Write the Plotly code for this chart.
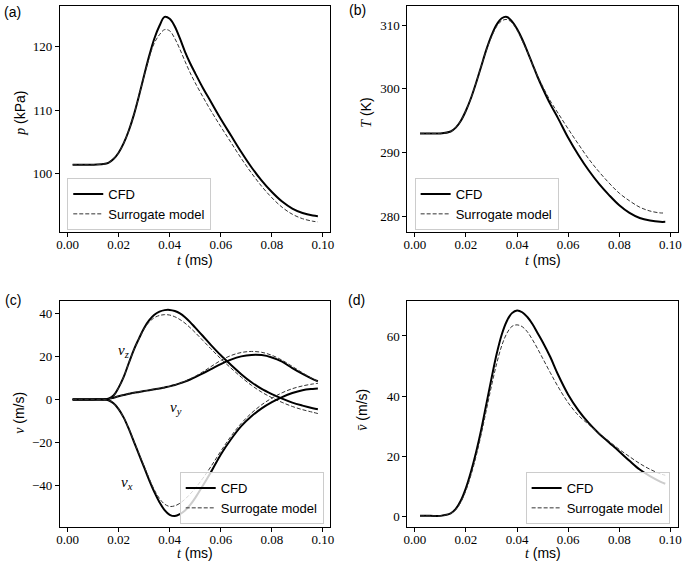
import plotly.graph_objects as go

# ---------------- data ----------------
t_ms = [0.002, 0.006, 0.010, 0.014, 0.016, 0.018, 0.020, 0.022, 0.024, 0.026,
        0.028, 0.030, 0.032, 0.034, 0.036, 0.038, 0.040, 0.042, 0.044, 0.046,
        0.048, 0.050, 0.053, 0.056, 0.060, 0.064, 0.068, 0.072, 0.076, 0.080,
        0.084, 0.088, 0.092, 0.096, 0.098]

p_cfd = [101.4, 101.4, 101.4, 101.5, 101.7, 102.3, 103.3, 104.8, 106.8, 109.3,
         112.3, 115.5, 118.6, 121.3, 123.3, 124.7, 124.4, 123.2, 121.3, 119.2,
         117.4, 115.8, 113.5, 111.4, 108.6, 106.0, 103.4, 101.0, 98.9, 97.1,
         95.6, 94.5, 93.8, 93.4, 93.3]
p_sur = [101.4, 101.4, 101.4, 101.5, 101.7, 102.3, 103.3, 104.8, 106.8, 109.3,
         112.3, 115.4, 118.3, 120.6, 121.9, 122.7, 122.5, 121.3, 119.6, 117.7,
         115.9, 114.3, 112.1, 110.0, 107.4, 104.9, 102.4, 100.1, 98.0, 96.2,
         94.7, 93.6, 92.9, 92.5, 92.4]

T_cfd = [293.0, 293.0, 293.0, 293.3, 293.9, 295.0, 296.6, 298.6, 301.0, 303.6,
         306.2, 308.4, 310.1, 311.1, 311.3, 310.6, 309.4, 307.8, 305.9, 303.9,
         301.9, 300.1, 297.6, 295.4, 292.3, 289.6, 287.2, 285.1, 283.3, 281.7,
         280.5, 279.7, 279.3, 279.1, 279.1]
T_sur = [293.0, 293.0, 293.0, 293.3, 293.9, 295.0, 296.6, 298.6, 301.0, 303.6,
         306.1, 308.2, 309.8, 310.7, 310.9, 310.4, 309.2, 307.6, 305.8, 303.9,
         302.0, 300.4, 298.1, 296.2, 293.7, 291.3, 289.0, 287.0, 285.2, 283.6,
         282.4, 281.4, 280.8, 280.5, 280.5]

vx_cfd = [0.0, 0.0, 0.0, 0.0, -0.4, -1.8, -4.5, -8.5, -13.8, -19.8,
          -25.8, -31.8, -37.8, -43.3, -48.0, -51.7, -53.9, -54.5, -53.6, -51.9,
          -49.3, -46.0, -40.2, -34.3, -25.7, -18.6, -12.5, -7.9, -4.2, -1.3,
          1.1, 3.0, 4.3, 4.9, 5.1]
vx_sur = [0.0, 0.0, 0.0, 0.0, -0.4, -1.8, -4.5, -8.5, -13.6, -19.5,
          -25.4, -31.2, -37.0, -42.3, -46.3, -48.9, -50.0, -49.7, -48.5, -46.6,
          -44.2, -41.5, -36.8, -31.6, -24.2, -17.2, -11.2, -6.4, -2.5, 0.6,
          3.1, 5.0, 6.3, 7.2, 7.5]
vy_cfd = [0.0, 0.0, 0.0, 0.0, 0.2, 0.8, 1.5, 2.1, 2.6, 3.1,
          3.5, 3.9, 4.3, 4.7, 5.1, 5.6, 6.1, 6.7, 7.5, 8.3,
          9.3, 10.4, 12.2, 14.0, 16.5, 18.6, 20.1, 20.8, 20.7, 19.6,
          17.6, 14.6, 11.9, 9.5, 8.5]
vy_sur = [0.0, 0.0, 0.0, 0.0, 0.2, 0.8, 1.5, 2.1, 2.6, 3.1,
          3.5, 3.9, 4.3, 4.7, 5.1, 5.6, 6.1, 6.8, 7.6, 8.5,
          9.6, 10.8, 12.9, 15.2, 18.2, 20.5, 21.9, 22.4, 22.0, 20.6,
          18.3, 15.4, 12.4, 9.6, 8.4]
vz_cfd = [0.0, 0.0, 0.0, 0.0, 0.3, 1.8, 5.5, 10.5, 17.0, 23.3,
          28.5, 33.4, 37.0, 39.5, 41.0, 41.7, 41.8, 41.3, 40.2, 38.4,
          36.1, 33.5, 29.6, 25.6, 20.6, 16.1, 11.8, 8.0, 4.9, 2.5,
          0.4, -1.5, -2.9, -4.1, -4.6]
vz_sur = [0.0, 0.0, 0.0, 0.0, 0.3, 1.8, 5.5, 10.5, 17.0, 23.2,
          28.3, 33.0, 36.2, 38.2, 39.2, 39.6, 39.4, 38.6, 37.3, 35.6,
          33.5, 31.2, 27.5, 23.8, 19.0, 14.6, 10.4, 6.6, 3.4, 0.8,
          -1.4, -3.3, -4.8, -6.0, -6.6]

vm_cfd = [0.2, 0.2, 0.2, 1.0, 2.5, 5.3, 9.5, 15.0, 21.5, 29.0,
          37.5, 46.0, 54.0, 60.5, 65.0, 67.6, 68.5, 67.9, 66.3, 64.0,
          61.0, 58.0, 53.0, 47.2, 40.5, 35.3, 31.1, 27.6, 24.6, 21.6,
          18.5, 15.6, 13.4, 11.6, 10.9]
vm_sur = [0.2, 0.2, 0.2, 1.0, 2.3, 4.8, 8.7, 13.9, 20.2, 27.5,
          35.5, 43.5, 50.8, 56.8, 60.9, 63.2, 63.7, 63.1, 61.4, 58.8,
          55.8, 52.6, 47.8, 43.2, 37.8, 33.6, 30.6, 27.7, 25.0, 22.3,
          19.9, 17.6, 15.7, 14.2, 13.7]

x_ticks = [0.00, 0.02, 0.04, 0.06, 0.08, 0.10]
p_ticks = [100, 110, 120]
T_ticks = [280, 290, 300, 310]
v_ticks = [-40, -20, 0, 20, 40]
vm_ticks = [0, 20, 40, 60]
legend_names = ["CFD", "Surrogate model"]

# ---------------- figure ----------------
W, H = 685, 566
SERIF = "Liberation Serif"
SANS = "Liberation Sans"

def px(x):
    return x / W

def py(y):
    return 1 - y / H

fig = go.Figure()

solid = dict(color="black", width=2)
dashed = dict(color="#333333", width=1, dash="4px,2px")

def add_pair(y1, y2, xa, ya, leg, show=True):
    fig.add_trace(go.Scatter(x=t_ms, y=y1, mode="lines", line=solid, line_shape="spline",
                             name=legend_names[0], xaxis=xa, yaxis=ya, legend=leg,
                             showlegend=show, hoverinfo="skip"))
    fig.add_trace(go.Scatter(x=t_ms, y=y2, mode="lines", line=dashed, line_shape="spline",
                             name=legend_names[1], xaxis=xa, yaxis=ya, legend=leg,
                             showlegend=show, hoverinfo="skip"))

add_pair(p_cfd, p_sur, "x", "y", "legend")
add_pair(T_cfd, T_sur, "x2", "y2", "legend2")
add_pair(vz_cfd, vz_sur, "x3", "y3", "legend3")
add_pair(vy_cfd, vy_sur, "x3", "y3", "legend3", show=False)
add_pair(vx_cfd, vx_sur, "x3", "y3", "legend3", show=False)
add_pair(vm_cfd, vm_sur, "x4", "y4", "legend4")

LEFT = [px(56.5), px(330)]
RIGHT = [px(408), px(681.5)]
TOP = [py(232), py(5.5)]
BOT = [py(527), py(300.5)]
XR = [-0.003, 0.1028]

def xaxis(dom, anchor):
    return dict(domain=dom, range=XR, anchor=anchor, tickvals=x_ticks, tickformat=".2f",
                ticks="outside", ticklen=4, tickwidth=1, tickcolor="black",
                ticklabelstandoff=-4,
                showline=True, linecolor="black", linewidth=1, mirror=True,
                showgrid=False, zeroline=False,
                tickfont=dict(family=SERIF, size=13, color="black"))

def yaxis(dom, anchor, rng, tv):
    return dict(domain=dom, range=rng, anchor=anchor, tickvals=tv,
                ticks="outside", ticklen=4, tickwidth=1, tickcolor="black",
                showline=True, linecolor="black", linewidth=1, mirror=True,
                showgrid=False, zeroline=False,
                tickfont=dict(family=SERIF, size=13, color="black"))

leg_common = dict(bgcolor="rgba(255,255,255,0.8)", bordercolor="#cccccc", borderwidth=1,
                  font=dict(family=SANS, size=13, color="black"), tracegroupgap=0,
                  itemwidth=30)

fig.update_layout(
    width=W, height=H, margin=dict(l=0, r=0, t=0, b=0),
    paper_bgcolor="white", plot_bgcolor="white",
    xaxis=xaxis(LEFT, "y"), yaxis=yaxis(TOP, "x", [90.8, 126.5], p_ticks),
    xaxis2=xaxis(RIGHT, "y2"), yaxis2=yaxis(TOP, "x2", [277.5, 313.1], T_ticks),
    xaxis3=xaxis(LEFT, "y3"), yaxis3=yaxis(BOT, "x3", [-59.6, 46.2], v_ticks),
    xaxis4=xaxis(RIGHT, "y4"), yaxis4=yaxis(BOT, "x4", [-3.5, 71.8], vm_ticks),
    legend=dict(x=px(64), y=py(178), xanchor="left", yanchor="top", **leg_common),
    legend2=dict(x=px(415.5), y=py(178), xanchor="left", yanchor="top", **leg_common),
    legend3=dict(x=px(323.5), y=py(472), xanchor="right", yanchor="top", **leg_common),
    legend4=dict(x=px(673.5), y=py(472), xanchor="right", yanchor="top", **leg_common),
)

def ann(text, x, y, size=14, angle=0, family=SANS):
    fig.add_annotation(text=text, x=px(x), y=py(y), xref="paper", yref="paper",
                       showarrow=False, textangle=angle, xanchor="center", yanchor="middle",
                       font=dict(family=family, size=size, color="black"))

def it(s):
    return '<span style="font-family:%s"><i>%s</i></span>' % (SERIF, s)

# panel letters
ann("(a)", 9, 12)
ann("(b)", 358, 10)
ann("(c)", 9, 300)
ann("(d)", 357, 300)

# axis titles
ann(it("t") + " (ms)", 193, 260)
ann(it("t") + " (ms)", 545, 260)
ann(it("t") + " (ms)", 193, 553)
ann(it("t") + " (ms)", 545, 553)
ann(it("p") + " (kPa)", 16, 113, angle=-90)
ann(it("T") + " (K)", 366, 113, angle=-90)
ann(it("v") + " (m/s)", 15, 413, angle=-90)
ann(it("v\u0304") + " (m/s)", 362, 410, angle=-90)

# component labels in panel (c)
def cann(text, tx, vy):
    fig.add_annotation(text=text, x=tx, y=vy, xref="x3", yref="y3", showarrow=False,
                       font=dict(family=SERIF, size=15, color="black"))

cann("<i>v</i><sub><i>z</i></sub>", 0.0220, 22.6)
cann("<i>v</i><sub><i>y</i></sub>", 0.0424, -4.1)
cann("<i>v</i><sub><i>x</i></sub>", 0.0232, -39.0)

fig.write_html("out.html", config={"displayModeBar": False},
               post_script="document.body.style.margin='0px';")
